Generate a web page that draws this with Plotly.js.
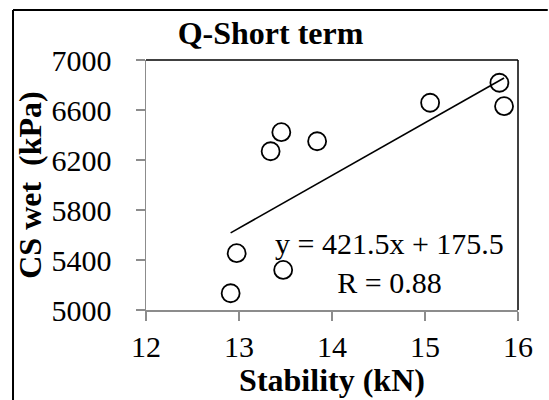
<!DOCTYPE html>
<html>
<head>
<meta charset="utf-8">
<script src="https://cdn.plot.ly/plotly-3.0.1.min.js"></script>
<style>
html,body{margin:0;padding:0;background:#fff;overflow:hidden;}
#chart{width:549px;height:400px;}
#chart text{font-family:"Liberation Serif","Times New Roman",serif !important;}
</style>
</head>
<body>
<div id="chart"></div>
<script>
// Data
const stability = [12.91, 12.975, 13.34, 13.455, 13.475, 13.84, 15.055, 15.80, 15.85];
const csWet     = [5134, 5455, 6270, 6423, 5321, 6350, 6658, 6818, 6631];
const slope = 421.5;
const intercept = 175.5;
const rValue = 0.88;
const chartTitle = "Q-Short term";
const xTitle = "Stability (kN)";
const yTitle = "CS wet  (kPa)";

const xMin = Math.min(...stability), xMax = Math.max(...stability);
const trendX = [xMin, xMax];
const trendY = trendX.map(x => slope * x + intercept);

const serif = "Liberation Serif, serif";

const traces = [
  {
    x: trendX, y: trendY, mode: "lines", type: "scatter",
    line: {color: "#000", width: 1.6}, hoverinfo: "skip", showlegend: false
  },
  {
    x: stability, y: csWet, mode: "markers", type: "scatter",
    marker: {symbol: "circle-open", size: 18, color: "#000", line: {color: "#000", width: 1.8}},
    showlegend: false
  }
];

const layout = {
  width: 549, height: 400,
  margin: {l: 146, r: 31, t: 60, b: 90, pad: 0},
  paper_bgcolor: "#fff", plot_bgcolor: "#fff",
  showlegend: false,
  font: {family: serif, color: "#000", size: 30},
  title: {
    text: "<b>" + chartTitle + "</b>",
    font: {family: serif, size: 32, color: "#000"},
    xref: "container", yref: "container",
    x: 0.4927, xanchor: "center", y: 0.917, yanchor: "middle"
  },
  xaxis: {
    range: [12, 16], dtick: 1, tick0: 12,
    showgrid: false, zeroline: false,
    showline: true, linecolor: "#8c8c8c", linewidth: 1.5,
    ticks: "outside", ticklen: 9, tickcolor: "#8c8c8c", tickwidth: 1.5,
    tickfont: {family: serif, size: 30, color: "#000"},
    title: {text: "<b>" + xTitle + "</b>", font: {family: serif, size: 32, color: "#000"}, standoff: 4}
  },
  yaxis: {
    range: [5000, 7000], dtick: 400, tick0: 5000,
    showgrid: false, zeroline: false,
    showline: true, linecolor: "#8c8c8c", linewidth: 1.5,
    ticks: "outside", ticklen: 9, tickcolor: "#8c8c8c", tickwidth: 1.5,
    ticklabelstandoff: 18,
    tickfont: {family: serif, size: 30, color: "#000"},
    title: {text: "<b>" + yTitle + "</b>", font: {family: serif, size: 32, color: "#000"}, standoff: 0}
  },
  shapes: [
    {type: "line", xref: "paper", yref: "paper", x0: 0, x1: 1, y0: 1, y1: 1, line: {color: "#000", width: 1.5}},
    {type: "line", xref: "paper", yref: "paper", x0: 1, x1: 1, y0: 0, y1: 1, line: {color: "#000", width: 1.5}},
    {type: "line", xref: "paper", yref: "paper", x0: -0.3575, x1: -0.3575, y0: -0.6, y1: 1.2, line: {color: "#000", width: 2}},
    {type: "line", xref: "paper", yref: "paper", x0: -0.3575, x1: 1.08, y0: 1.2, y1: 1.2, line: {color: "#000", width: 2}}
  ],
  annotations: [
    {text: "y = " + slope + "x + " + intercept + "<br>R = " + rValue.toFixed(2),
     align: "center", xref: "paper", yref: "paper", x: 0.655, y: 0.19,
     xanchor: "center", yanchor: "middle", showarrow: false, font: {family: serif, size: 30, color: "#000"}}
  ]
};

Plotly.newPlot("chart", traces, layout, {displayModeBar: false, staticPlot: true}).then(gd => {
  gd.querySelectorAll("text").forEach(t => t.style.setProperty("font-family", "'Liberation Serif', serif", "important"));
});
</script>
</body>
</html>
